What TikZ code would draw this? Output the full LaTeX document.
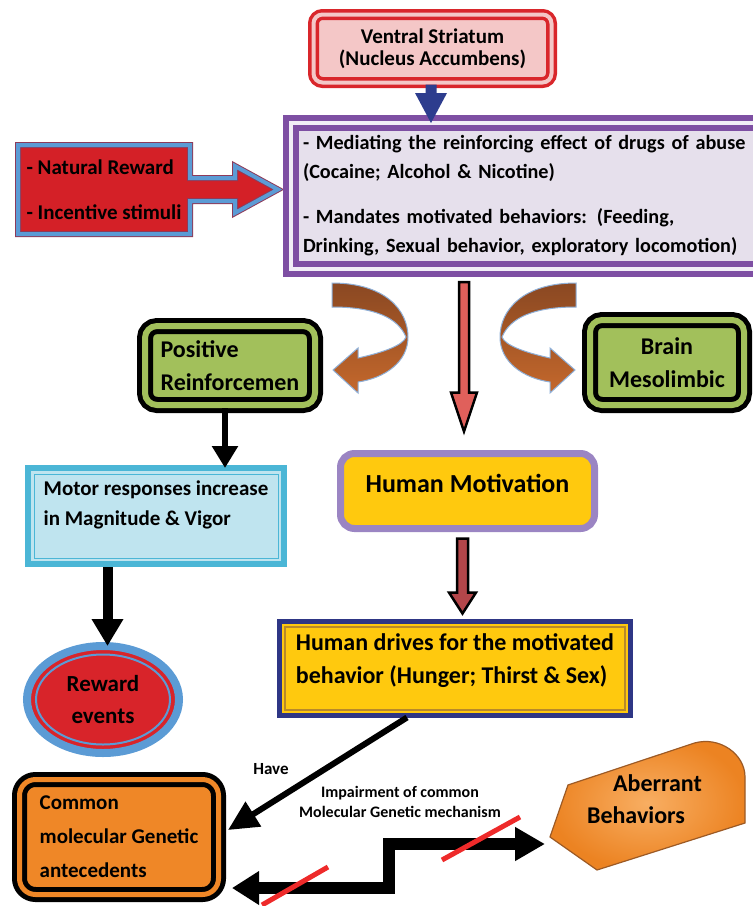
\documentclass[tikz,border=0pt]{standalone}
\usepackage{fontspec}
\setmainfont{Carlito}
\usepackage{tikz}
\usetikzlibrary{calc}
\usetikzlibrary{arrows.meta}
\usetikzlibrary{shapes.geometric}
\usetikzlibrary{backgrounds}

\definecolor{vsred}{HTML}{D9262B}
\definecolor{vspink}{HTML}{F4C7C7}
\definecolor{vsblue}{HTML}{2D3D8E}
\definecolor{medpurple}{HTML}{7E4FA3}
\definecolor{medgap}{HTML}{F1EEF6}
\definecolor{medfill}{HTML}{E6E0EC}
\definecolor{natred}{HTML}{D42027}
\definecolor{natblue}{HTML}{5B9BD5}
\definecolor{natedge}{HTML}{8E3A59}
\definecolor{brownA}{HTML}{8A4822}
\definecolor{brownB}{HTML}{C4682C}
\definecolor{curveblue}{HTML}{8FB0D8}
\definecolor{salmon}{HTML}{E0605B}
\definecolor{darkred}{HTML}{B4464A}
\definecolor{posgreen}{HTML}{A2C05B}
\definecolor{motorcyan}{HTML}{4BB6D6}
\definecolor{motorfill}{HTML}{BFE4EF}
\definecolor{rewred}{HTML}{D8242A}
\definecolor{rewblue}{HTML}{5B9BD5}
\definecolor{hmfill}{HTML}{FFC90E}
\definecolor{hmpurple}{HTML}{9B85C3}
\definecolor{drvnavy}{HTML}{2E3685}
\definecolor{drvgold}{HTML}{B8892A}
\definecolor{comorange}{HTML}{EF8727}
\definecolor{abrorange}{HTML}{EC8322}
\definecolor{abrlight}{HTML}{F8AE62}
\definecolor{abredge}{HTML}{9C5A25}
\definecolor{slashred}{HTML}{EE2A2A}

\tikzset{
    txt/.style={font=\bfseries\fontsize{21}{29}\selectfont},
    big/.style={font=\bfseries\fontsize{24}{33}\selectfont},
    vsbox/.style={draw=vsred, line width=3.5pt, double=vspink, double distance=4pt,
        fill=vspink, rounded corners=9pt, align=center, font=\bfseries\fontsize{21}{22}\selectfont},
    medbox/.style={draw=medpurple, line width=6pt, double=medgap, double distance=4pt,
        fill=medfill, align=left, font=\bfseries\fontsize{20.2}{29}\selectfont},
    greenbox/.style={draw=black, line width=5pt, double=posgreen, double distance=6pt,
        fill=posgreen, rounded corners=12pt, big},
    motorbox/.style={draw=motorcyan, line width=6pt, fill=motorfill, align=left,
        font=\bfseries\fontsize{21}{30}\selectfont},
    rewell/.style={ellipse, draw=rewblue, line width=8pt, fill=rewred, align=center,
        font=\bfseries\fontsize{23}{32}\selectfont},
    hmbox/.style={draw=hmpurple, line width=7pt, fill=hmfill, rounded corners=14pt,
        align=left, font=\bfseries\fontsize{26}{30}\selectfont},
    drvbox/.style={draw=drvnavy, line width=5pt, fill=hmfill, align=left, big},
    combox/.style={draw=black, line width=5pt, double=comorange, double distance=5pt,
        fill=comorange, rounded corners=16pt, align=left,
        font=\bfseries\fontsize{21}{34}\selectfont},
    natarrow/.style={fill=natred, draw=natedge, line width=1pt, double=natblue,
        double distance=4pt, line join=miter},
    curvedarrow/.style={top color=brownA, bottom color=brownB, draw=curveblue, line width=1pt},
    abrshape/.style={inner color=abrlight, outer color=abrorange, draw=abredge, line width=1.2pt},
    redarrow/.style={fill=salmon, draw=black, line width=2.5pt, line join=miter},
    darkredarrow/.style={fill=darkred, draw=black, line width=2.5pt, line join=miter},
    blkarrow/.style={draw=black, line width=6pt, -{Triangle[length=22pt,width=25pt]}},
    steparrow/.style={draw=black, line width=12pt, line join=miter,
        {Triangle[length=27pt,width=32pt]}-{Triangle[length=30pt,width=32pt]}},
    slash/.style={draw=slashred, line width=5pt},
}

% block arrow pointing down: style, start, end, shaft half, head half, head length
\newcommand{\vblock}[6]{%
    \path[#1] let \p1=#2, \p2=#3 in
        (\x1-#4pt,\y1) -- (\x1-#4pt,\y2+#6pt) -- (\x1-#5pt,\y2+#6pt) -- (\x1,\y2)
        -- (\x1+#5pt,\y2+#6pt) -- (\x1+#4pt,\y2+#6pt) -- (\x1+#4pt,\y1) -- cycle;}

\begin{document}
\begin{tikzpicture}[x=1pt,y=-1pt, every node/.style={outer sep=0pt, inner sep=0pt}]
    \useasboundingbox (0,0) rectangle (753,906);

    \node (vs) at (432.5,48.5) [vsbox, minimum width=238pt, minimum height=68pt]
        {Ventral Striatum\\(Nucleus Accumbens)};
    \node (med) at (533,196) [medbox, minimum width=484pt, minimum height=146pt, text width=460pt]
        {- Mediating the reinforcing effect of drugs of abuse\\(Cocaine; Alcohol \& Nicotine)\\[16pt]
         - Mandates motivated behaviors: (Feeding,\\Drinking, Sexual behavior, exploratory locomotion)};
    \node (nat) at (104,189.5) [txt, minimum width=172pt, minimum height=89pt, align=left]
        {- Natural Reward\\[16pt]- Incentive stimuli};

    \node (pos) at (230,365.5) [greenbox, minimum width=170pt, minimum height=79pt, align=left]
        {Positive\\Reinforcemen};
    \node (brain) at (667,362.5) [greenbox, minimum width=154pt, minimum height=85pt, align=center]
        {Brain\\Mesolimbic};

    \node (motor) at (156,516) [motorbox, minimum width=256pt, minimum height=96pt]
        {Motor responses increase\\in Magnitude \& Vigor\\[-4pt]\mbox{}};
    \draw[motorcyan, line width=1pt] ($(motor.north west)+(6,6)$) rectangle ($(motor.south east)+(-6,-6)$);

    \node (rew) at (103,699.5) [rewell, minimum width=152pt, minimum height=107pt] {Reward\\events};
    \draw[rewblue, line width=2pt] (rew.center) ellipse [x radius=67pt, y radius=45pt];

    \node (hm) at (467.5,491) [hmbox, minimum width=254pt, minimum height=75pt]
        {Human Motivation\\[-14pt]\mbox{}};
    \node (drv) at (455,668.5) [drvbox, minimum width=351pt, minimum height=94pt]
        {Human drives for the motivated\\behavior (Hunger; Thirst \& Sex)\\[-14pt]\mbox{}};
    \draw[drvgold, line width=1.5pt] ($(drv.north west)+(5.5,5.5)$) rectangle ($(drv.south east)+(-5.5,-5.5)$);

    \node (com) at (119,837) [combox, minimum width=199pt, minimum height=115pt]
        {Common\\molecular Genetic\\antecedents};
    \node (abr) at (644.5,799) [align=left, font=\bfseries\fontsize{24}{32}\selectfont]
        {\hspace*{26pt}Aberrant\\Behaviors};
    \node (have) at (271,769) [font=\bfseries\fontsize{17}{20}\selectfont] {Have};
    \node (imp) at (400,802) [align=center, font=\bfseries\fontsize{16}{20}\selectfont]
        {Impairment of common\\Molecular Genetic mechanism};

    \begin{scope}[on background layer]
        \path[natarrow] let \p1=(nat.east), \p2=(med.west) in
            (nat.north west) -- (nat.north east) -- (\x1,\y1+11.5pt) -- (\x2-56pt,\y1+11.5pt)
            -- (\x2-56pt,\y1+23.5pt) -- (\x2-13pt,\y1) -- (\x2-56pt,\y1-23.5pt)
            -- (\x2-56pt,\y1-11.5pt) -- (\x1,\y1-11.5pt) -- (nat.south east) -- (nat.south west) -- cycle;
        \begin{scope}[shift={(abr.center)}]
            \path[abrshape] (-94.5,38) -- (-76.5,-14) -- (50,-56)
                .. controls (75,-63) and (100.5,-45) .. (100.5,-22) -- (100.5,24) -- (-47.5,71) -- cycle;
        \end{scope}
    \end{scope}

    \vblock{fill=vsblue}{($(vs.south)+(-1.5,2)$)}{($(med.north -| vs.south)+(0,0)$)}{5.5}{16}{30}
    \vblock{redarrow}{($(hm.north |- med.south)+(-3.5,13)$)}{($(hm.north)+(0,-22)$)}{5}{13}{39}
    \vblock{darkredarrow}{($(hm.south)+(-5,10)$)}{($(drv.north)+(0,-8)$)}{5.5}{13.5}{21}

    \begin{scope}[shift={($(pos.east)+(18,4.5)$)}]
        \path[curvedarrow] (-1,-87) .. controls (52,-87) and (75,-60) .. (75,-33)
            .. controls (75,-8) and (52,8) .. (25,12) -- (25,23) -- (0,0) -- (25,-22) -- (25,-12)
            .. controls (52,-18) and (70,-25) .. (73,-33) .. controls (65,-52) and (42,-63) .. (-1,-63) -- cycle;
    \end{scope}
    \begin{scope}[shift={($(brain.west)+(-15,7.5)$)}, xscale=-1]
        \path[curvedarrow] (-1,-87) .. controls (52,-87) and (75,-60) .. (75,-33)
            .. controls (75,-8) and (52,8) .. (25,12) -- (25,23) -- (0,0) -- (25,-22) -- (25,-12)
            .. controls (52,-18) and (70,-25) .. (73,-33) .. controls (65,-52) and (42,-63) .. (-1,-63) -- cycle;
    \end{scope}

    \coordinate (posout) at ($(pos.south)+(-5,3)$);
    \draw[blkarrow] (posout) -- (posout |- motor.north);
    \coordinate (motout) at ($(motor.south -| rew.north)+(4.5,3)$);
    \draw[blkarrow, line width=10pt, -{Triangle[length=27pt,width=30pt]}] (motout) -- (motout |- rew.north);
    \coordinate (drvout) at ($(drv.south)+(-48,2)$);
    \coordinate (comin) at ($(com.east)+(9.5,-7)$);
    \draw[blkarrow, -{Triangle[length=30pt,width=28pt]}] (drvout) -- (comin);

    \coordinate (stepl) at ($(com.east)+(13.5,51)$);
    \coordinate (stepr) at ($(abr.center)+(-99.5,45)$);
    \draw[steparrow] (stepl) -| ($(stepl)!0.5!(stepr)$) |- (stepr);
    \draw[slash] (262,905) -- (328,867);
    \draw[slash] (442,860) -- (520,817);
\end{tikzpicture}
\end{document}
